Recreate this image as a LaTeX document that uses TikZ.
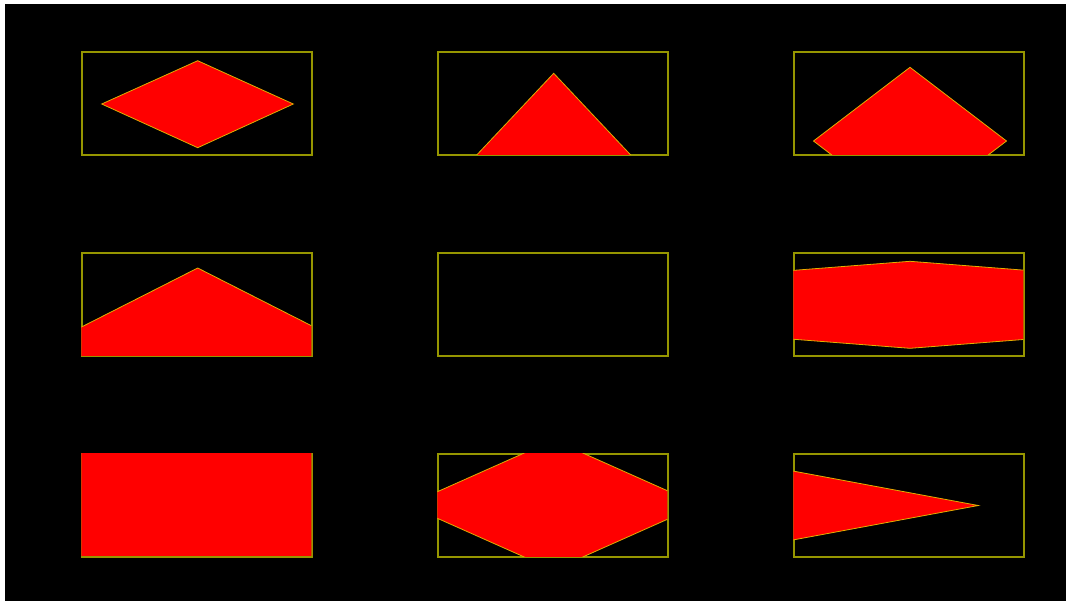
\documentclass[tikz,border=0pt]{standalone}
\usepackage{tikz}

\definecolor{framecol}{RGB}{150,150,0}
\definecolor{edgecol}{RGB}{225,175,0}

\begin{document}
\begin{tikzpicture}[
  x=1pt,
  y=-1pt,
  bg/.style={fill=black},
  frame/.style={draw=framecol,line width=1.2pt},
  blob/.style={fill=red,draw=edgecol,line width=0.8pt,line join=miter}
]
\useasboundingbox (0,0) rectangle (1066,603);
\fill[white] (0,0) rectangle (1066,603);
\path[bg] (5,4) rectangle (1066,601);
% frames
\foreach \x in {82,438,794} {
  \foreach \y in {52,253,454} {
    \path[frame] (\x,\y) rectangle ++(230,103);
  }
}
% row 1
\begin{scope}
  \clip (81.4,51.4) rectangle (311.4,154.4);
  \path[blob] (101.7,104) -- (197.7,60.7) -- (293.3,104) -- (197.7,147.7) -- cycle;
\end{scope}
\begin{scope}
  \clip (437.4,51.4) rectangle (667.4,154.4);
  \path[blob] (434.3,200) -- (553.7,73.3) -- (673.1,200) -- (553.7,326.7) -- cycle;
\end{scope}
\begin{scope}
  \clip (793.4,51.4) rectangle (1023.4,154.4);
  \path[blob] (813.5,141) -- (910,67.3) -- (1006.5,141) -- (910,214.7) -- cycle;
\end{scope}
% row 2
\begin{scope}
  \clip (81.4,252.4) rectangle (311.4,355.4);
  \path[blob] (-3.3,370) -- (197.7,268) -- (398.7,370) -- (197.7,472) -- cycle;
\end{scope}
\begin{scope}
  \clip (793.4,252.4) rectangle (1023.4,355.4);
  \path[blob] (350,304.8) -- (910,261.3) -- (1470,304.8) -- (910,348.3) -- cycle;
\end{scope}
% row 3
\begin{scope}
  \clip (81.4,453.4) rectangle (311.4,555.6);
  \path[blob] (-300,505) -- (197,200) -- (700,505) -- (197,810) -- cycle;
\end{scope}
\begin{scope}
  \clip (437.4,453.4) rectangle (667.4,556.4);
  \path[blob] (407.5,505) -- (553.5,440) -- (699.5,505) -- (553.5,570) -- cycle;
\end{scope}
\begin{scope}
  \clip (793.4,453.4) rectangle (1023.4,556.4);
  \path[blob] (178.3,505.5) -- (578.3,431.1) -- (978.3,505.5) -- (578.3,579.9) -- cycle;
\end{scope}
\end{tikzpicture}
\end{document}
